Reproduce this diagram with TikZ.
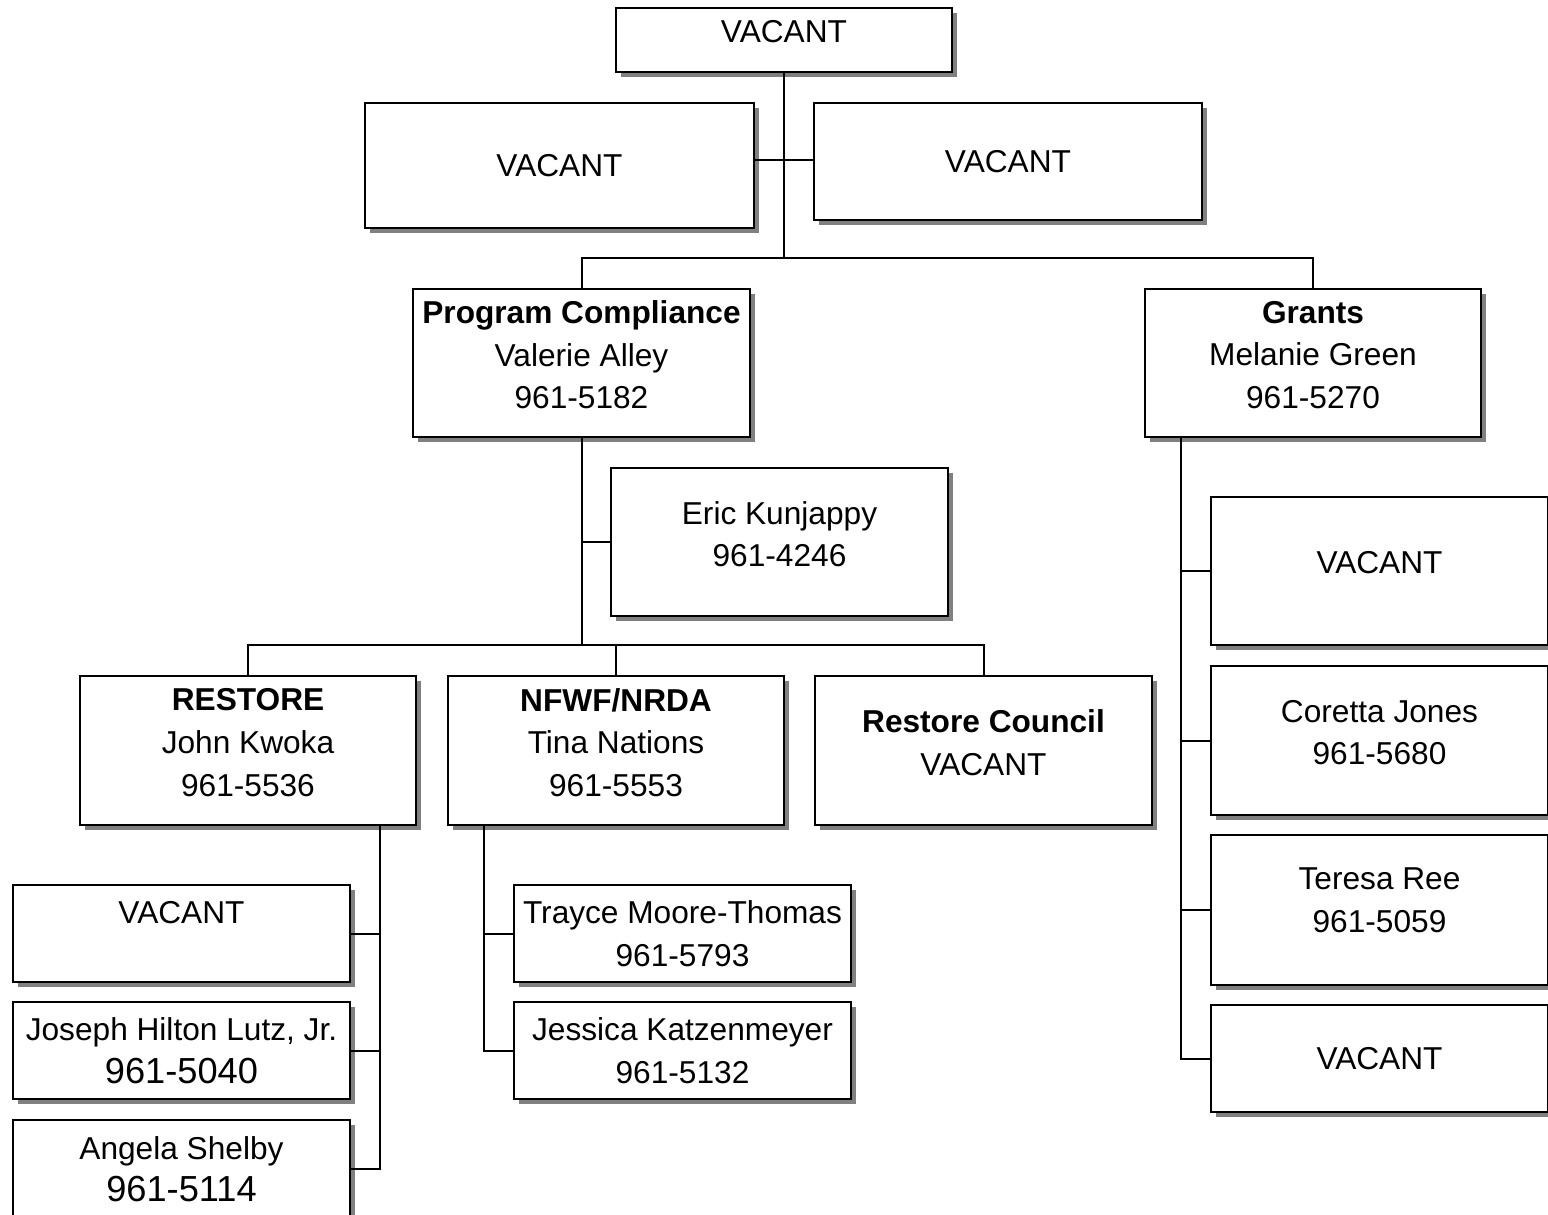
\documentclass[tikz,border=0pt]{standalone}
\usepackage{fontspec}
\setmainfont{Liberation Sans}
\usetikzlibrary{shadows}
\tikzset{OrgBox/.style={%
    shape=rectangle,%
    draw=black,%
    fill=white,%
    line width=0.02cm,%
    inner sep=2pt,%
    align=center,%
    font=\fontsize{9}{12.1}\selectfont,%
    drop shadow={shadow xshift=0.05cm, shadow yshift=-0.05cm, fill=black!50, opacity=1},%
}}
\tikzset{RaisedText/.style={%
    text depth=4.6pt,%
}}
\tikzset{OrgLine/.style={%
    line width=0.02cm,%
}}
\NewDocumentCommand{\bigPhone}{m}{%
    {\fontsize{10.3}{12.1}\selectfont #1}%
}

\begin{document}
\begin{tikzpicture}[x=0.01cm, y=-0.01cm]
    \useasboundingbox[fill=white] (0,0) rectangle (1548,1215);

    \node[OrgBox, RaisedText, minimum width=3.36cm, minimum height=0.64cm] (top) at (784,40) {VACANT};
    \node[OrgBox, minimum width=3.89cm, minimum height=1.25cm] (lv) at (559.5,165.5) {VACANT};
    \node[OrgBox, minimum width=3.88cm, minimum height=1.17cm] (rv) at (1008,161.5) {VACANT};
    \node[OrgBox, RaisedText, minimum width=3.37cm, minimum height=1.48cm] (pc) at (581.5,363) {\textbf{Program Compliance}\\Valerie Alley\\961-5182};
    \node[OrgBox, RaisedText, minimum width=3.36cm, minimum height=1.48cm] (gr) at (1313,363) {\textbf{Grants}\\Melanie Green\\961-5270};
    \node[OrgBox, RaisedText, minimum width=3.37cm, minimum height=1.48cm] (eric) at (779.5,542) {Eric Kunjappy\\961-4246};
    \node[OrgBox, RaisedText, minimum width=3.36cm, minimum height=1.49cm] (rs) at (248,750.5) {\textbf{RESTORE}\\John Kwoka\\961-5536};
    \node[OrgBox, RaisedText, minimum width=3.36cm, minimum height=1.49cm] (nf) at (616,750.5) {\textbf{NFWF/NRDA}\\Tina Nations\\961-5553};
    \node[OrgBox, RaisedText, minimum width=3.37cm, minimum height=1.49cm] (rc) at (983.5,750.5) {\textbf{Restore Council}\\VACANT};
    \node[OrgBox, minimum width=3.37cm, minimum height=0.97cm] (rv1) at (181.5,933.5) {VACANT\\[0pt]\mbox{}};
    \node[OrgBox, minimum width=3.37cm, minimum height=0.97cm] (jl) at (181.5,1050.5) {Joseph Hilton Lutz, Jr.\\\bigPhone{961-5040}};
    \node[OrgBox, minimum width=3.37cm, minimum height=0.98cm] (as) at (181.5,1169) {Angela Shelby\\\bigPhone{961-5114}};
    \node[OrgBox, minimum width=3.37cm, minimum height=0.97cm] (tm) at (682.5,933.5) {Trayce Moore-Thomas\\961-5793};
    \node[OrgBox, minimum width=3.37cm, minimum height=0.97cm] (jk) at (682.5,1050.5) {Jessica Katzenmeyer\\961-5132};
    \node[OrgBox, RaisedText, minimum width=3.37cm, minimum height=1.48cm] (g1) at (1379.5,571) {VACANT};
    \node[OrgBox, RaisedText, minimum width=3.37cm, minimum height=1.49cm] (g2) at (1379.5,740.5) {Coretta Jones\\961-5680};
    \node[OrgBox, RaisedText, text depth=5.6pt, minimum width=3.37cm, minimum height=1.50cm] (g3) at (1379.5,910) {Teresa Ree\\961-5059};
    \node[OrgBox, minimum width=3.37cm, minimum height=1.07cm] (g4) at (1379.5,1058.5) {VACANT};

    \coordinate (busA) at (784,258);
    \coordinate (busB) at (784,160);
    \coordinate (busC) at (581.5,645);

    % top levels
    \draw[OrgLine] (top.south) -- (busA);
    \draw[OrgLine] (lv.east |- busB) -- (rv.west |- busB);
    \draw[OrgLine] (pc.north) |- (busA) -| (gr.north);

    % program compliance
    \draw[OrgLine] (pc.south) -- (busC);
    \draw[OrgLine] (pc.south |- eric.west) -- (eric.west);
    \draw[OrgLine] (rs.north) |- (busC) -| (rc.north);
    \draw[OrgLine] (nf.north) -- (nf.north |- busC);

    % restore
    \draw[OrgLine] ([xshift=1.32cm]rs.south) |- (as.east);
    \draw[OrgLine] (rv1.east) -- ++(30,0);
    \draw[OrgLine] (jl.east) -- ++(30,0);

    % nfwf
    \draw[OrgLine] ([xshift=-1.32cm]nf.south) |- (jk.west);
    \draw[OrgLine] (tm.west) -- ++(-30,0);

    % grants
    \draw[OrgLine] ([xshift=-1.32cm]gr.south) |- (g4.west);
    \draw[OrgLine] (g1.west) -- ++(-30,0);
    \draw[OrgLine] (g2.west) -- ++(-30,0);
    \draw[OrgLine] (g3.west) -- ++(-30,0);
\end{tikzpicture}
\end{document}
